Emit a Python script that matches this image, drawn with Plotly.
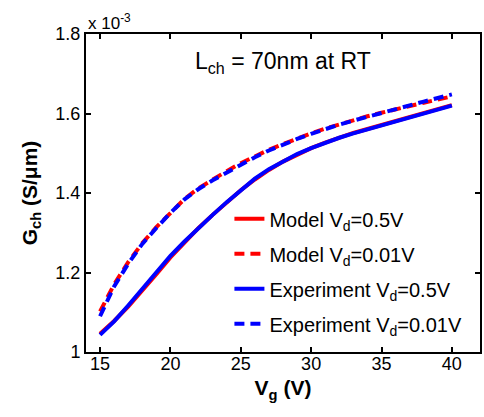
import plotly.graph_objects as go

vg = list(range(15, 41))

exp_05 = [1.043, 1.077, 1.117, 1.158, 1.200, 1.242, 1.278, 1.313, 1.345, 1.377,
          1.408, 1.436, 1.460, 1.480, 1.498, 1.513, 1.527, 1.539, 1.550, 1.560,
          1.570, 1.579, 1.590, 1.600, 1.610, 1.620]
exp_001 = [1.090, 1.165, 1.222, 1.272, 1.312, 1.350, 1.384, 1.410, 1.432, 1.452,
           1.472, 1.490, 1.507, 1.522, 1.536, 1.549, 1.561, 1.572, 1.582, 1.592,
           1.602, 1.611, 1.620, 1.630, 1.639, 1.648]
mod_05 = [1.046, 1.078, 1.114, 1.154, 1.196, 1.238, 1.276, 1.312, 1.345, 1.377,
          1.407, 1.434, 1.458, 1.479, 1.497, 1.513, 1.527, 1.540, 1.551, 1.561,
          1.571, 1.581, 1.591, 1.601, 1.611, 1.621]
mod_001 = [1.102, 1.170, 1.226, 1.274, 1.314, 1.351, 1.385, 1.412, 1.435, 1.455,
           1.475, 1.493, 1.509, 1.523, 1.537, 1.550, 1.562, 1.573, 1.583, 1.593,
           1.602, 1.611, 1.619, 1.627, 1.635, 1.643]

scale = 1e-3
FONT = "Liberation Sans, Arial, sans-serif"

fig = go.Figure()
series = [
    ("Model V<sub>d</sub>=0.5V", mod_05, "red", "solid"),
    ("Model V<sub>d</sub>=0.01V", mod_001, "red", "dash"),
    ("Experiment V<sub>d</sub>=0.5V", exp_05, "blue", "solid"),
    ("Experiment V<sub>d</sub>=0.01V", exp_001, "blue", "dash"),
]
for i, (name, ys, col, dash) in enumerate(series):
    fig.add_trace(go.Scatter(
        x=vg, y=[v * scale for v in ys], mode="lines", name=name,
        legendgroup=f"g{i}",
        line=dict(color=col, width=4, dash="10px,6px" if dash == "dash" else "solid"),
    ))

axis_common = dict(
    showline=True, linecolor="black", linewidth=2, mirror="ticks",
    ticks="inside", ticklen=5, tickwidth=1.5, tickcolor="black",
    showgrid=False, zeroline=False,
    tickfont=dict(family=FONT, size=18, color="black"),
)

fig.update_layout(
    width=484, height=417,
    margin=dict(l=86, r=2, t=34, b=65),
    paper_bgcolor="white", plot_bgcolor="white",
    font=dict(family=FONT, color="black"),
    xaxis=dict(range=[14, 42], tickvals=[15, 20, 25, 30, 35, 40],
               ticklabelstandoff=-6,
               title=dict(text="<b>V<sub>g</sub> (V)</b>", font=dict(family=FONT, size=21), standoff=8),
               **axis_common),
    yaxis=dict(range=[1.0e-3, 1.8e-3],
               tickvals=[1.0e-3, 1.2e-3, 1.4e-3, 1.6e-3, 1.8e-3],
               ticktext=["1", "1.2", "1.4", "1.6", "1.8"],
               title=dict(text="<b>G<sub>ch</sub> (S/μm)</b>", font=dict(family=FONT, size=21), standoff=12),
               **axis_common),
    legend=dict(x=0.364, y=0.48, xanchor="left", yanchor="top",
                bgcolor="rgba(0,0,0,0)", borderwidth=0,
                font=dict(family=FONT, size=20, color="black"),
                tracegroupgap=6),
    annotations=[
        dict(text="L<sub>ch</sub> = 70nm at RT", x=0.5, y=0.962, xref="paper", yref="paper",
             xanchor="center", yanchor="top", showarrow=False,
             font=dict(family=FONT, size=23, color="black")),
        dict(text="x 10<sup>-3</sup>", x=0.0, y=1.0, xref="paper", yref="paper",
             xanchor="left", yanchor="bottom", showarrow=False, yshift=-1,
             font=dict(family=FONT, size=17, color="black")),
    ],
)

fig.write_html("out.html", config={"displayModeBar": False},
               post_script="document.body.style.margin='0';")
